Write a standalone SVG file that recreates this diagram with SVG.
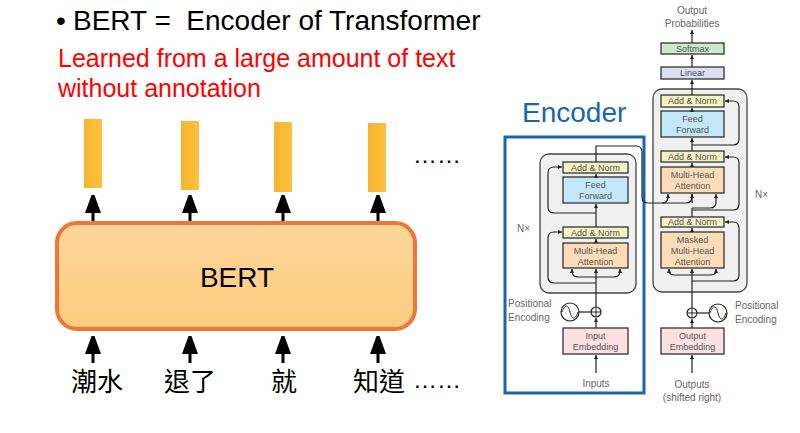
<svg xmlns="http://www.w3.org/2000/svg" width="800" height="433" viewBox="0 0 800 433">
<style>
.h{font-family:"Liberation Sans",Arial,sans-serif;fill:#000}
.red{font-family:"Liberation Sans",Arial,sans-serif;fill:#ff0000;font-size:25px}
.zh{font-family:"Noto Sans CJK TC","Noto Sans CJK SC",sans-serif;font-size:26px;fill:#000}
.big{stroke:#000;stroke-width:3;fill:none}
.t{font-family:"Liberation Sans",Arial,sans-serif;font-size:9px;fill:#555;text-anchor:middle}
.l{font-family:"Liberation Sans",Arial,sans-serif;font-size:10px;fill:#666}
.box{stroke:#333;stroke-width:1.3}
.an{fill:#f2f3c3}
.ff{fill:#c3e7f6}
.mha{fill:#fcdcb8}
.emb{fill:#fde0e1}
.c{stroke:#222;stroke-width:1.2;fill:none}
.ca{stroke:#222;stroke-width:1.2;fill:none;marker-end:url(#sa)}
.outer{fill:#f0f0f0;stroke:#444;stroke-width:1.3}
</style>
<defs>
<marker id="ba" markerUnits="userSpaceOnUse" markerWidth="18" markerHeight="24" refX="16" refY="8" orient="auto">
<path d="M0,0 L22,8 L0,16 Z" fill="#000"/>
</marker>
<marker id="sa" markerUnits="userSpaceOnUse" markerWidth="6" markerHeight="6" refX="4" refY="2" orient="auto">
<path d="M0,0 L4,2 L0,4 Z" fill="#222"/>
</marker>
<linearGradient id="bar" x1="0" y1="0" x2="1" y2="0">
<stop offset="0" stop-color="#f7b32e"/>
<stop offset="1" stop-color="#fdc23e"/>
</linearGradient>
<linearGradient id="bert" x1="0" y1="0" x2="0" y2="1">
<stop offset="0" stop-color="#fdd699"/>
<stop offset="1" stop-color="#fdcc7e"/>
</linearGradient>
</defs>

<!-- Left side texts -->
<g id="title">
<text class="h" x="56" y="30" font-size="28">•</text>
<text class="h" x="73" y="30" font-size="28" xml:space="preserve">BERT =  Encoder of Transformer</text>
</g>
<g id="subtitle">
<text class="red" x="58" y="67">Learned from a large amount of text</text>
<text class="red" x="58" y="97">without annotation</text>
</g>

<g id="outputs">
<rect x="84" y="119" width="18" height="69" fill="url(#bar)"/>
<rect x="181" y="121" width="18" height="69" fill="url(#bar)"/>
<rect x="274" y="122" width="18" height="70" fill="url(#bar)"/>
<rect x="368" y="123" width="18" height="69" fill="url(#bar)"/>
<text class="h" x="413" y="163" font-size="24">……</text>
</g>

<g id="bert">
<rect x="57" y="223" width="358" height="106" rx="20" fill="url(#bert)" stroke="#f07536" stroke-width="4"/>
<text class="h" x="237" y="287" font-size="28" text-anchor="middle">BERT</text>
</g>

<g id="tokens">
<text class="zh" x="97" y="391" text-anchor="middle">潮水</text>
<text class="zh" x="190" y="391" text-anchor="middle">退了</text>
<text class="zh" x="284" y="391" text-anchor="middle">就</text>
<text class="zh" x="379" y="391" text-anchor="middle">知道</text>
<text class="h" x="413" y="388" font-size="24">……</text>
</g>

<g id="bert-arrows">
<line class="big" x1="93" y1="221" x2="93" y2="197" marker-end="url(#ba)"/>
<line class="big" x1="190" y1="221" x2="190" y2="197" marker-end="url(#ba)"/>
<line class="big" x1="283" y1="221" x2="283" y2="197" marker-end="url(#ba)"/>
<line class="big" x1="378" y1="221" x2="378" y2="197" marker-end="url(#ba)"/>
<line class="big" x1="93" y1="363" x2="93" y2="338" marker-end="url(#ba)"/>
<line class="big" x1="190" y1="363" x2="190" y2="338" marker-end="url(#ba)"/>
<line class="big" x1="283" y1="363" x2="283" y2="338" marker-end="url(#ba)"/>
<line class="big" x1="378" y1="363" x2="378" y2="338" marker-end="url(#ba)"/>
</g>

<!-- Transformer -->
<g id="encoder-stack">
<rect class="outer" x="540" y="154" width="96" height="139" rx="9"/>
</g>
<g id="decoder-stack">
<rect class="outer" x="653" y="89" width="94" height="203" rx="9"/>
</g>

<g id="enc-addnorm1"><rect class="box an" x="563" y="162" width="65" height="11"/><text class="t" x="595.5" y="170.8">Add &amp; Norm</text></g>
<g id="enc-ff"><rect class="box ff" x="563" y="177" width="65" height="26"/><text class="t" x="595.5" y="188">Feed</text><text class="t" x="595.5" y="199">Forward</text></g>
<g id="enc-addnorm2"><rect class="box an" x="563" y="227" width="65" height="11"/><text class="t" x="595.5" y="235.8">Add &amp; Norm</text></g>
<g id="enc-mha"><rect class="box mha" x="563" y="243" width="65" height="25"/><text class="t" x="595.5" y="254">Multi-Head</text><text class="t" x="595.5" y="265">Attention</text></g>
<g id="enc-emb"><rect class="box emb" x="563" y="328" width="65" height="26"/><text class="t" x="595.5" y="339">Input</text><text class="t" x="595.5" y="350">Embedding</text></g>
<g id="enc-pe">
<circle cx="596" cy="312" r="5" fill="#fff" stroke="#222" stroke-width="1.2"/>
<path d="M591,312 H601 M596,307 V317" stroke="#222" stroke-width="1"/>
<circle cx="570" cy="312" r="9" fill="#fff" stroke="#222" stroke-width="1.2"/>
<path d="M562,312 C565,304 568,304 570,312 C572,320 575,320 578,312" stroke="#222" stroke-width="1" fill="none"/>
<text class="l" x="508" y="307">Positional</text>
<text class="l" x="508" y="321">Encoding</text>
</g>
<text class="l" x="517" y="232">N×</text>
<text class="l" x="596" y="387" text-anchor="middle">Inputs</text>

<g id="dec-addnorm1"><rect class="box an" x="661" y="95" width="63" height="12"/><text class="t" x="692.5" y="104.2">Add &amp; Norm</text></g>
<g id="dec-ff"><rect class="box ff" x="661" y="111" width="63" height="26"/><text class="t" x="692.5" y="122">Feed</text><text class="t" x="692.5" y="133">Forward</text></g>
<g id="dec-addnorm2"><rect class="box an" x="661" y="151" width="63" height="11"/><text class="t" x="692.5" y="159.8">Add &amp; Norm</text></g>
<g id="dec-mha"><rect class="box mha" x="661" y="167" width="63" height="26"/><text class="t" x="692.5" y="178">Multi-Head</text><text class="t" x="692.5" y="189">Attention</text></g>
<g id="dec-addnorm3"><rect class="box an" x="661" y="217" width="63" height="10"/><text class="t" x="692.5" y="225.3">Add &amp; Norm</text></g>
<g id="dec-mmha"><rect class="box mha" x="661" y="232" width="63" height="36"/><text class="t" x="692.5" y="243">Masked</text><text class="t" x="692.5" y="254">Multi-Head</text><text class="t" x="692.5" y="265">Attention</text></g>
<g id="dec-emb"><rect class="box emb" x="661" y="328" width="63" height="26"/><text class="t" x="692.5" y="339">Output</text><text class="t" x="692.5" y="350">Embedding</text></g>
<g id="linear"><rect class="box" fill="#dcdff2" x="661" y="67" width="63" height="12"/><text class="t" x="692.5" y="76.2">Linear</text></g>
<g id="softmax"><rect class="box" fill="#cde8cc" x="661" y="43" width="63" height="11"/><text class="t" x="692.5" y="51.8">Softmax</text></g>
<g id="dec-pe">
<circle cx="692" cy="313" r="5" fill="#fff" stroke="#222" stroke-width="1.2"/>
<path d="M687,313 H697 M692,308 V318" stroke="#222" stroke-width="1"/>
<circle cx="718" cy="313" r="9" fill="#fff" stroke="#222" stroke-width="1.2"/>
<path d="M710,313 C713,305 716,305 718,313 C720,321 723,321 726,313" stroke="#222" stroke-width="1" fill="none"/>
<text class="l" x="735" y="309">Positional</text>
<text class="l" x="735" y="323">Encoding</text>
</g>
<text class="l" x="755" y="198">N×</text>
<text class="l" x="692" y="14" text-anchor="middle">Output</text>
<text class="l" x="692" y="27" text-anchor="middle">Probabilities</text>
<text class="l" x="692" y="388" text-anchor="middle">Outputs</text>
<text class="l" x="692" y="401" text-anchor="middle">(shifted right)</text>

<g id="encoder-label">
<rect x="505" y="137" width="139" height="256" fill="none" stroke="#1766b3" stroke-width="3"/>
<text x="522" y="122" font-family="'Liberation Sans',Arial,sans-serif" font-size="28" fill="#1766b3">Encoder</text>
</g>

<g id="connectors">
<!-- encoder -->
<path class="ca" d="M596,373 V355"/>
<path class="ca" d="M596,328 V318"/>
<path class="c" d="M579,312 H591"/>
<path class="ca" d="M596,307 V269"/>
<path class="ca" d="M596,277 H578 Q572,277 572,271 V269"/>
<path class="ca" d="M596,277 H614 Q620,277 620,271 V269"/>
<path class="ca" d="M596,283 H554 Q548,283 548,277 V238 Q548,232 554,232 H562"/>
<path class="ca" d="M596,243 V239"/>
<path class="ca" d="M596,227 V204"/>
<path class="ca" d="M596,213 H554 Q548,213 548,207 V173 Q548,167 554,167 H562"/>
<path class="ca" d="M596,177 V174"/>
<path class="c" d="M596,162 V146 H636 Q642,146 642,152 V197 Q642,203 648,203 H686 Q692,203 692,197 V194"/>
<path class="ca" d="M692,203 V194"/>
<path class="ca" d="M662,203 Q668,203 668,197 V194"/>
<!-- decoder -->
<path class="ca" d="M692,373 V355"/>
<path class="ca" d="M692,328 V319"/>
<path class="c" d="M697,313 H709"/>
<path class="ca" d="M692,308 V269"/>
<path class="ca" d="M692,275 H675 Q669,275 669,271 V269"/>
<path class="ca" d="M692,275 H710 Q716,275 716,271 V269"/>
<path class="ca" d="M692,281 H733 Q739,281 739,275 V228 Q739,222 733,222 H725"/>
<path class="ca" d="M692,232 V228"/>
<path class="c" d="M692,217 V208"/>
<path class="ca" d="M692,208 H710 Q716,208 716,202 V194"/>
<path class="ca" d="M692,210 H733 Q739,210 739,204 V163 Q739,157 733,157 H725"/>
<path class="ca" d="M692,167 V163"/>
<path class="ca" d="M692,151 V138"/>
<path class="ca" d="M692,145 H733 Q739,145 739,139 V107 Q739,101 733,101 H725"/>
<path class="ca" d="M692,111 V108"/>
<path class="ca" d="M692,95 V80"/>
<path class="ca" d="M692,67 V55"/>
<path class="ca" d="M692,43 V30"/>
</g>
</svg>
